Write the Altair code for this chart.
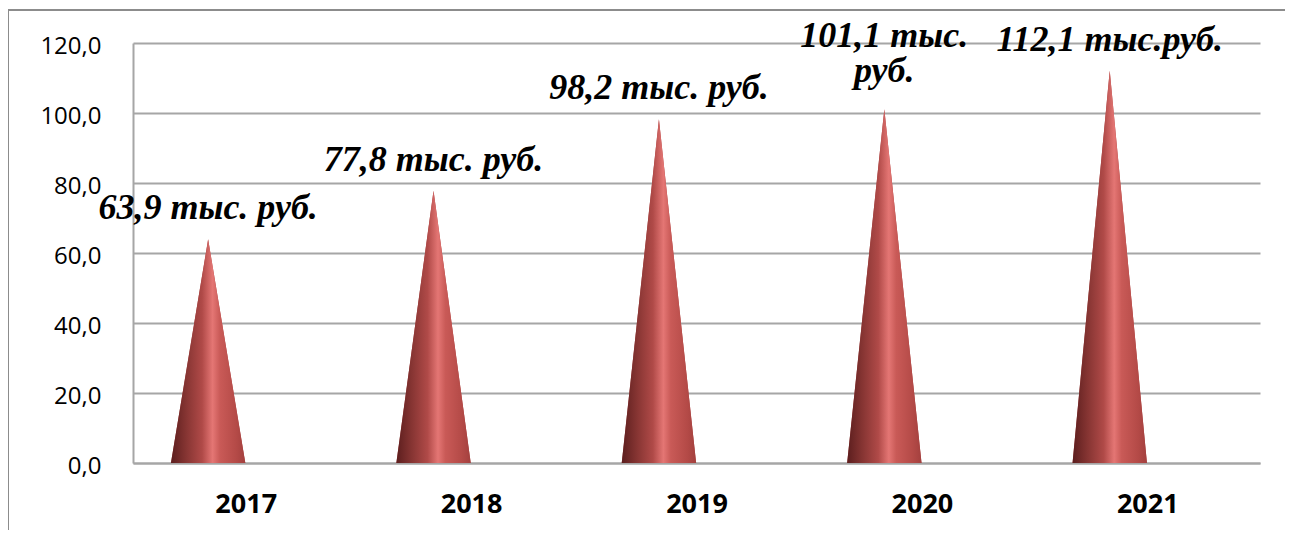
import altair as alt
import pandas as pd

years = ["2017", "2018", "2019", "2020", "2021"]
values = [63.9, 77.8, 98.2, 101.1, 112.1]
labels = ["63,9 тыс. руб.", "77,8 тыс. руб.", "98,2 тыс. руб.", "101,1 тыс.\nруб.", "112,1 тыс.руб."]
y_ticks = [0, 20, 40, 60, 80, 100, 120]

W, H = 1127, 420
CENTER = 1 / 3      # cone centre inside each category band (3-D depth shift)
HALF = 0.165        # cone half base width, in band units

rows = []
for i, (yr, v) in enumerate(zip(years, values)):
    c = i + CENTER
    rows += [
        {"year": yr, "px": c - HALF, "py": 0.0},
        {"year": yr, "px": c, "py": v},
        {"year": yr, "px": c + HALF, "py": 0.0},
    ]
cones = pd.DataFrame(rows)
lab = pd.DataFrame({"year": years, "px": [i + CENTER for i in range(len(years))],
                    "v": values, "label": labels})

year_expr = "[" + ",".join("'%s'" % y for y in years) + "][floor(datum.value)]"

xscale = alt.Scale(domain=[0, len(years)], nice=False, zero=False)
yscale = alt.Scale(domain=[0, 120], nice=False)

gradient = {
    "gradient": "linear", "x1": 0, "x2": 1, "y1": 0, "y2": 0,
    "stops": [
        {"offset": 0.0, "color": "#5c1e1e"},
        {"offset": 0.2, "color": "#853432"},
        {"offset": 0.42, "color": "#b04a48"},
        {"offset": 0.56, "color": "#e47674"},
        {"offset": 0.66, "color": "#c95a57"},
        {"offset": 0.88, "color": "#b44a47"},
        {"offset": 1.0, "color": "#a3403e"},
    ],
}

x_axis = alt.Axis(values=[i + 0.5 for i in range(len(years))], labelExpr=year_expr,
                  title=None, grid=False, ticks=False, domain=True,
                  domainColor="#a6a6a6", domainWidth=2,
                  labelFont="Open Sans", labelFontWeight="bold", labelFontSize=27,
                  labelColor="#000000", labelPadding=28)
y_axis = alt.Axis(values=y_ticks, title=None, grid=True, gridColor="#a6a6a6", gridWidth=2,
                  ticks=False, domain=True, domainColor="#a6a6a6", domainWidth=2,
                  labelExpr="replace(format(datum.value, '.1f'), '.', ',')",
                  labelFont="Open Sans", labelFontSize=24, labelColor="#000000",
                  labelPadding=32, labelOffset=3)

# axes + baseline layer: one continuous area through all triangles (solid fallback)
axes_layer = alt.Chart(cones).mark_area(color="#b04a48").encode(
    x=alt.X("px:Q", scale=xscale, axis=x_axis),
    y=alt.Y("py:Q", scale=yscale, axis=y_axis),
)

# one gradient cone per year, so each cone gets its own gradient box
cone_layers = [
    alt.Chart(cones).transform_filter(alt.datum.year == yr).mark_area(color=gradient).encode(
        x=alt.X("px:Q", scale=xscale),
        y=alt.Y("py:Q", scale=yscale),
    )
    for yr in years
]

text_style = dict(font="Liberation Serif", fontWeight="bold", fontStyle="italic", fontSize=36,
                  align="center", lineBreak="\n", lineHeight=35, color="#000000")
text_enc = dict(x=alt.X("px:Q", scale=xscale), y=alt.Y("v:Q", scale=yscale), text="label:N")
text1 = alt.Chart(lab).transform_filter("indexof(datum.label, '\\n') < 0").mark_text(
    baseline="alphabetic", dy=-20, **text_style).encode(**text_enc)
text2 = alt.Chart(lab).transform_filter("indexof(datum.label, '\\n') >= 0").mark_text(
    baseline="alphabetic", dy=-62, **text_style).encode(**text_enc)

frame_top = alt.Chart(lab).mark_rule(color="#8c8c8c", strokeWidth=1.5, clip=False).encode(
    x=alt.value(-125), x2=alt.value(W + 200), y=alt.value(-33))
frame_left = alt.Chart(lab).mark_rule(color="#8c8c8c", strokeWidth=1.5, clip=False).encode(
    x=alt.value(-125), y=alt.value(-33), y2=alt.value(H + 200))

chart = alt.layer(frame_top, frame_left, axes_layer, *cone_layers, text1, text2).properties(
    width=W, height=H,
    padding={"left": 125, "top": 35, "right": 25, "bottom": 67},
    autosize=alt.AutoSizeParams(type="none"),
).configure_view(stroke=None)

chart.save("out.html", embed_options={"renderer": "svg", "actions": False})
